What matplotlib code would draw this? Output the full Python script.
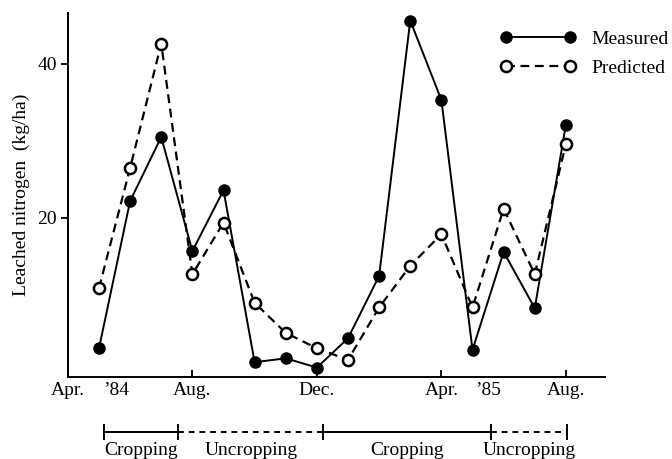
import matplotlib.pyplot as plt
import matplotlib.transforms as mtransforms

# months counted from Apr. 1984
months = list(range(1, 17))
measured = [3.1, 22.2, 30.5, 15.7, 23.6, 1.3, 1.8, 0.6, 4.4, 12.5, 45.6, 35.3, 2.9, 15.6, 8.3, 32.1]
predicted = [10.9, 26.5, 42.6, 12.7, 19.4, 9.0, 5.1, 3.1, 1.6, 8.4, 13.8, 17.9, 8.4, 21.2, 12.7, 29.6]

tick_pos = [0, 4, 8, 12, 16]
tick_labels = ["Apr.", "Aug.", "Dec.", "Apr.", "Aug."]
year_labels = ["\u201984", "\u201985"]
year_pos = [1.55, 13.5]

period_edges = [1.15, 3.55, 8.2, 13.6, 16.05]
period_labels = ["Cropping", "Uncropping", "Cropping", "Uncropping"]

plt.rcParams['font.family'] = ['Liberation Serif', 'DejaVu Serif']
plt.rcParams['font.size'] = 14

fig = plt.figure(figsize=(6.72, 4.59), dpi=100)
ax = fig.add_axes([0.101, 0.179, 0.799, 0.793])

ax.plot(months, measured, '-', color='black', lw=1.4, marker='o', ms=8,
        mfc='black', mec='black', label='Measured')
ax.plot(months, predicted, color='black', lw=1.6, ls=(0, (4, 2.5)), marker='o', ms=8,
        mfc='white', mec='black', mew=1.8, label='Predicted')

ax.set_xlim(0.1, 17.25)
ax.set_ylim(-0.6, 46.6)
ax.spines['top'].set_visible(False)
ax.spines['right'].set_visible(False)
ax.spines['left'].set_linewidth(1.4)
ax.spines['bottom'].set_linewidth(1.4)

ax.set_xticks(tick_pos)
ax.set_xticklabels(tick_labels)
ax.tick_params(axis='x', direction='in', length=5, width=1.3, pad=4)
ax.set_yticks([20, 40])
ax.tick_params(axis='y', direction='out', length=5, width=1.3, pad=3)
ax.set_ylabel("Leached nitrogen  (kg/ha)", labelpad=5)

trans = mtransforms.blended_transform_factory(ax.transData, ax.transAxes)
for xp, lab in zip(year_pos, year_labels):
    ax.text(xp, -0.013, lab, transform=trans, ha='center', va='top')

# cropping / uncropping periods below the axis
ybar = -0.151
for i, lab in enumerate(period_labels):
    x0, x1 = period_edges[i], period_edges[i + 1]
    style = '-' if lab == "Cropping" else (0, (3, 2.5))
    ax.plot([x0, x1], [ybar, ybar], color='black', lw=1.4, ls=style,
            transform=trans, clip_on=False)
    ax.text((x0 + x1) / 2, ybar - 0.028, lab, transform=trans,
            ha='center', va='top')
ax.plot(period_edges, [ybar] * len(period_edges), ls='none', marker='|', ms=12,
        mew=1.4, color='black', transform=trans, clip_on=False)

ax.legend(loc='upper right', bbox_to_anchor=(1.012, 0.96),
          bbox_transform=fig.transFigure, frameon=False, numpoints=2,
          handlelength=3.9, handletextpad=0.8, labelspacing=0.6,
          borderaxespad=0.2)

fig.savefig("out.png", dpi=100)
